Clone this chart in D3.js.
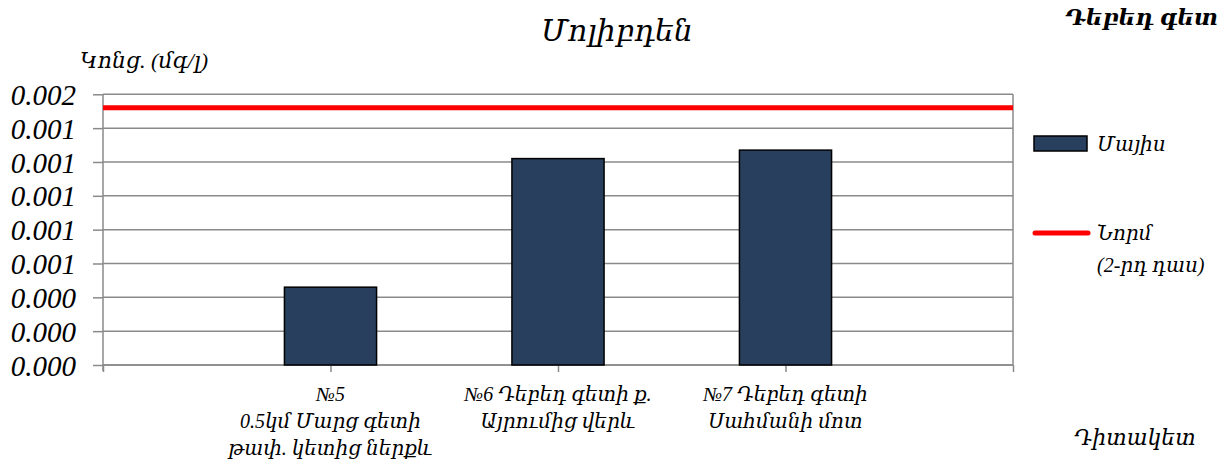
<!DOCTYPE html>
<html>
<head>
<meta charset="utf-8">
<script src="https://cdn.jsdelivr.net/npm/d3@7"></script>
<style>
  body { margin: 0; background: #fff; }
  svg text { font-family: "Liberation Serif", "DejaVu Serif", serif; font-style: italic; fill: #000; }
  .grid line { stroke: #8a8a8a; stroke-width: 1.5; }
  .axis path, .axis line { stroke: #8a8a8a; stroke-width: 1.5; }
</style>
</head>
<body>
<div id="chart"></div>
<script>
/* ============================================================
   Molybdenum - Debed river, single bar series + norm line
   ============================================================ */

const W = 1228, H = 465;
const PLOT = { left: 103, right: 1013, top: 94.3, bottom: 365 };

// categories: empty first/last so bars sit on the inner tick marks
const CATEGORIES = ["", "p5", "p6", "p7", " "];
const CATEGORY_LABELS = {
  p5: ["№5", "0.5կմ Մարց գետի", "թափ. կետից ներքև"],
  p6: ["№6 Դեբեդ գետի ք.", "Այրումից վերև"],
  p7: ["№7 Դեբեդ գետի", "Սահմանի մոտ"],
};

// May measurements (mg/l)
const MAY_VALUES = [
  { cat: "p5", value: 0.00046 },
  { cat: "p6", value: 0.00122 },
  { cat: "p7", value: 0.00127 },
];

// norm (2nd class), same for every category
const NORM_VALUES = [0.00152, 0.00152, 0.00152, 0.00152, 0.00152];

const Y_TICKS = [0, 0.0002, 0.0004, 0.0006, 0.0008, 0.001, 0.0012, 0.0014, 0.0016];

const TITLE = "Մոլիբդեն";
const RIVER = "Դեբեդ գետ";
const Y_LABEL = "Կոնց. (մգ/լ)";
const X_LABEL = "Դիտակետ";
const LEGEND_BAR = "Մայիս";
const LEGEND_NORM = ["Նորմ", "(2-րդ դաս)"];

const BAR_FILL = "#283f5e";
const NORM_COLOR = "#ff0000";

const svg = d3.select("#chart").append("svg").attr("width", W).attr("height", H);

const x = d3.scalePoint().domain(CATEGORIES).range([PLOT.left, PLOT.right]);
const y = d3.scaleLinear().domain([0, 0.0016]).range([PLOT.bottom, PLOT.top]);
const barW = x.step() * 0.405;

/* ---------- gridlines + plot border ---------- */
svg.append("g")
  .attr("class", "grid")
  .selectAll("line")
  .data(Y_TICKS)
  .join("line")
  .attr("x1", PLOT.left).attr("x2", PLOT.right)
  .attr("y1", (d) => y(d)).attr("y2", (d) => y(d));

svg.append("line")
  .attr("x1", PLOT.right).attr("x2", PLOT.right)
  .attr("y1", PLOT.top).attr("y2", PLOT.bottom)
  .attr("stroke", "#8a8a8a").attr("stroke-width", 1.5);

/* ---------- axes ---------- */
const yAxis = svg.append("g")
  .attr("class", "axis")
  .attr("transform", `translate(${PLOT.left},0)`)
  .call(d3.axisLeft(y).tickValues(Y_TICKS).tickSize(10).tickPadding(17)
    .tickFormat(d3.format(".3f")));
yAxis.select(".domain").attr("d", `M0,${PLOT.top}V${PLOT.bottom + 6}`);
yAxis.selectAll("text").style("font-size", "29px").attr("dy", "0.35em");

const xAxis = svg.append("g")
  .attr("class", "axis")
  .attr("transform", `translate(0,${PLOT.bottom})`)
  .call(d3.axisBottom(x).tickSize(7).tickFormat(""));
xAxis.select(".domain").attr("d", `M${PLOT.left},0H${PLOT.right}`);

/* ---------- bars ---------- */
svg.selectAll(".bar")
  .data(MAY_VALUES)
  .join("rect")
  .attr("class", "bar")
  .attr("x", (d) => x(d.cat) - barW / 2)
  .attr("y", (d) => y(d.value))
  .attr("width", barW)
  .attr("height", (d) => y(0) - y(d.value))
  .attr("fill", BAR_FILL)
  .attr("stroke", "#000")
  .attr("stroke-width", 1.5);

/* ---------- norm line ---------- */
svg.append("path")
  .datum(NORM_VALUES)
  .attr("fill", "none")
  .attr("stroke", NORM_COLOR)
  .attr("stroke-width", 5)
  .attr("d", d3.line().x((d, i) => x(CATEGORIES[i])).y((d) => y(d)));

/* ---------- category labels ---------- */
const catLabels = svg.append("g")
  .selectAll("text")
  .data(CATEGORIES.filter((c) => CATEGORY_LABELS[c]))
  .join("text")
  .attr("text-anchor", "middle")
  .attr("y", 401)
  .style("font-size", "20px");
catLabels.selectAll("tspan")
  .data((c) => CATEGORY_LABELS[c].map((t) => ({ c, t })))
  .join("tspan")
  .attr("x", (d) => x(d.c))
  .attr("dy", (d, i) => (i === 0 ? 0 : 27))
  .text((d) => d.t);

/* ---------- titles ---------- */
svg.append("text").attr("x", 617).attr("y", 41).attr("text-anchor", "middle")
  .style("font-size", "30px").text(TITLE);
svg.append("text").attr("x", 1218).attr("y", 25).attr("text-anchor", "end")
  .style("font-size", "23px").style("font-weight", "bold").text(RIVER);
svg.append("text").attr("x", 80).attr("y", 68)
  .style("font-size", "22px").text(Y_LABEL);
svg.append("text").attr("x", 1074).attr("y", 445)
  .style("font-size", "22px").text(X_LABEL);

/* ---------- legend ---------- */
const legend = svg.append("g");
legend.append("rect")
  .attr("x", 1034).attr("y", 136).attr("width", 53).attr("height", 15)
  .attr("fill", BAR_FILL).attr("stroke", "#000").attr("stroke-width", 1.5);
legend.append("text").attr("x", 1097).attr("y", 151)
  .style("font-size", "20px").text(LEGEND_BAR);
legend.append("line")
  .attr("x1", 1035).attr("x2", 1088).attr("y1", 233).attr("y2", 233)
  .attr("stroke", NORM_COLOR).attr("stroke-width", 5).attr("stroke-linecap", "round");
legend.append("text").attr("x", 1097).attr("y", 240)
  .style("font-size", "20px").text(LEGEND_NORM[0]);
legend.append("text").attr("x", 1097).attr("y", 272)
  .style("font-size", "20px").text(LEGEND_NORM[1]);
</script>
</body>
</html>
